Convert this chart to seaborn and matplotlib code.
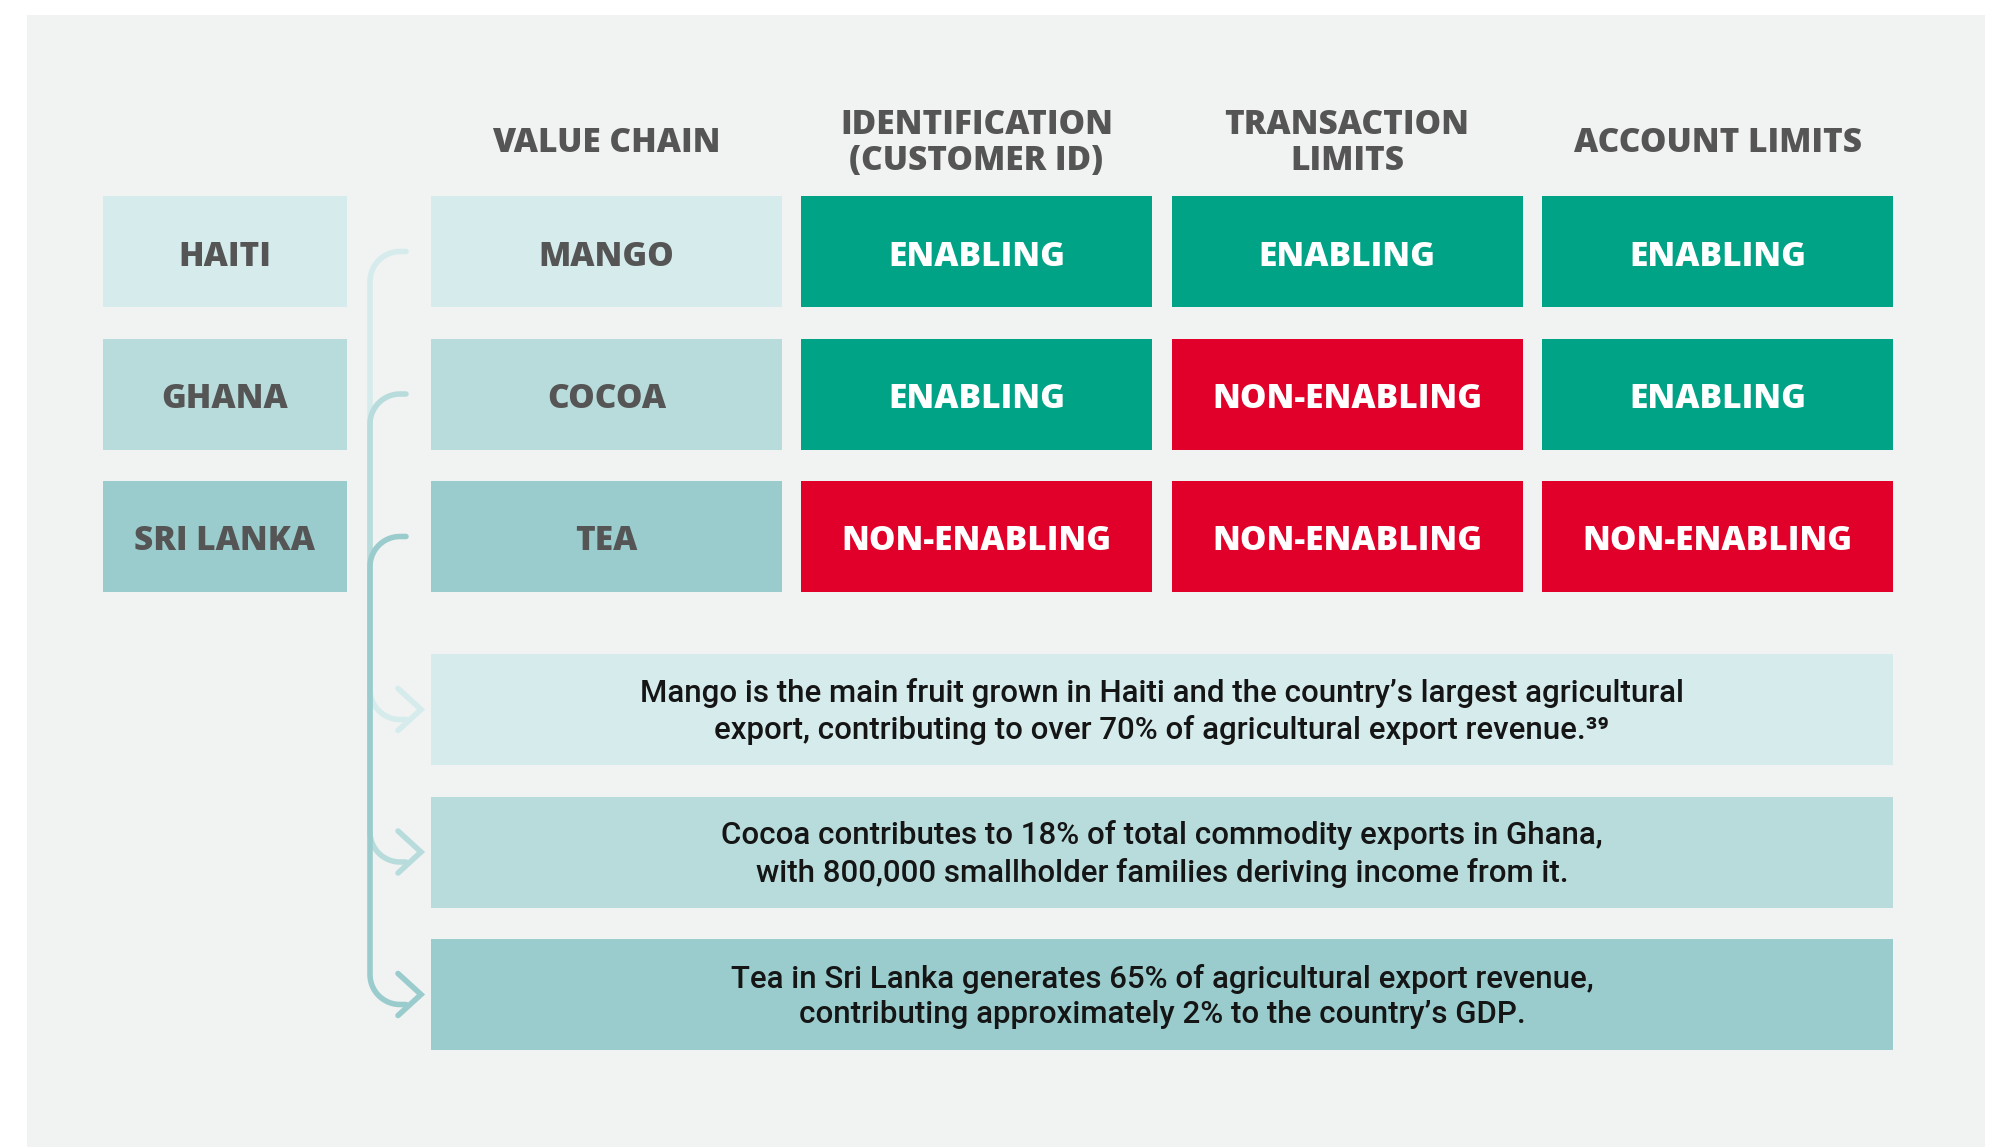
import numpy as np
import seaborn as sns
import matplotlib.pyplot as plt
from matplotlib.patches import Rectangle

# --- data ---
countries = ['HAITI', 'GHANA', 'SRI LANKA']
value_chains = ['MANGO', 'COCOA', 'TEA']
headers = ['VALUE CHAIN', 'IDENTIFICATION\n(CUSTOMER ID)', 'TRANSACTION\nLIMITS', 'ACCOUNT LIMITS']
status = [
    ['ENABLING', 'ENABLING', 'ENABLING'],
    ['ENABLING', 'NON-ENABLING', 'ENABLING'],
    ['NON-ENABLING', 'NON-ENABLING', 'NON-ENABLING'],
]
descriptions = [
    "Mango is the main fruit grown in Haiti and the country\u2019s largest agricultural\n"
    "export, contributing to over 70% of agricultural export revenue.\u00b3\u2079",
    "Cocoa contributes to 18% of total commodity exports in Ghana,\n"
    "with 800,000 smallholder families deriving income from it.",
    "Tea in Sri Lanka generates 65% of agricultural export revenue,\n"
    "contributing approximately 2% to the country\u2019s GDP.",
]

# --- style ---
sns.set_theme(style='white')
plt.rcParams['font.family'] = ['Open Sans', 'DejaVu Sans']

bg = '#F1F3F2'
row_colors = ['#D5EBEC', '#B8DCDC', '#9ACCCD']
status_colors = {'ENABLING': '#00A386', 'NON-ENABLING': '#E0002A'}
grey_text = '#555555'
bold = dict(fontsize=24, fontweight='heavy')

# layout (pixels)
row_top0, row_pitch, row_h = 196, 142.5, 111
desc_top0 = 654
country_x, country_w = 103, 244
vc_x, col_w = 431, 351
status_x0, status_pitch = 801, 370.5
desc_w = 1462
dy = 5  # caps sit a bit below the box centre

fig = plt.figure(figsize=(20, 11.47), dpi=100)
fig.patch.set_facecolor('white')
ax = fig.add_axes([0, 0, 1, 1])
ax.set_xlim(0, 2000)
ax.set_ylim(1147, 0)
ax.axis('off')

ax.add_patch(Rectangle((27, 15), 1958, 1140, color=bg, lw=0, zorder=0))

row_y = row_top0 + np.arange(3) * row_pitch + row_h / 2
desc_y = desc_top0 + np.arange(3) * row_pitch + row_h / 2
col_cx = [vc_x + col_w / 2] + [status_x0 + i * status_pitch + col_w / 2 for i in range(3)]

# headers
for cx, h in zip(col_cx, headers):
    ax.text(cx, 143, h, ha='center', va='center', color=grey_text, linespacing=1.1, **bold)

# country + value chain boxes
ax.barh(row_y, country_w, left=country_x, height=row_h, color=row_colors, lw=0, zorder=1)
ax.barh(row_y, col_w, left=vc_x, height=row_h, color=row_colors, lw=0, zorder=1)
for i in range(3):
    ax.text(country_x + country_w / 2, row_y[i] + dy, countries[i], ha='center', va='center',
            color=grey_text, **bold)
    ax.text(col_cx[0], row_y[i] + dy, value_chains[i], ha='center', va='center',
            color=grey_text, **bold)

# status cells
for j in range(3):
    cols = [status_colors[status[i][j]] for i in range(3)]
    ax.barh(row_y, col_w, left=status_x0 + j * status_pitch, height=row_h, color=cols,
            lw=0, zorder=1)
    for i in range(3):
        ax.text(col_cx[j + 1], row_y[i] + dy, status[i][j], ha='center', va='center',
                color='white', **bold)

# description boxes
ax.barh(desc_y, desc_w, left=vc_x, height=row_h, color=row_colors, lw=0, zorder=1)
for i in range(3):
    ax.text(vc_x + desc_w / 2, desc_y[i] + 2, descriptions[i], ha='center', va='center',
            fontsize=22.5, fontweight='medium', color='#151515', linespacing=1.3,
            family=['Roboto', 'DejaVu Sans'])

# connectors
vx, ex, r = 370, 406, 30
for i in range(3):
    y0, y1 = row_y[i], desc_y[i] + 10
    t = np.linspace(np.pi / 2, np.pi, 20)
    top_x = vx + r + r * np.cos(t)
    top_y = y0 + r - r * np.sin(t)
    t2 = np.linspace(np.pi, 3 * np.pi / 2, 20)
    bot_x = vx + r + r * np.cos(t2)
    bot_y = y1 - r - r * np.sin(t2)
    xs = np.concatenate([[ex], top_x, bot_x, [ex]])
    ys = np.concatenate([[y0], top_y, bot_y, [y1]])
    ax.plot(xs, ys, color=row_colors[i], lw=4, solid_capstyle='round', zorder=2 + i)
    ax.plot([398, 421, 398], [desc_y[i] - 21, desc_y[i], desc_y[i] + 21],
            color=row_colors[i], lw=4, solid_capstyle='round', solid_joinstyle='miter', zorder=2 + i)

fig.savefig('out.png', dpi=100, facecolor='white')
